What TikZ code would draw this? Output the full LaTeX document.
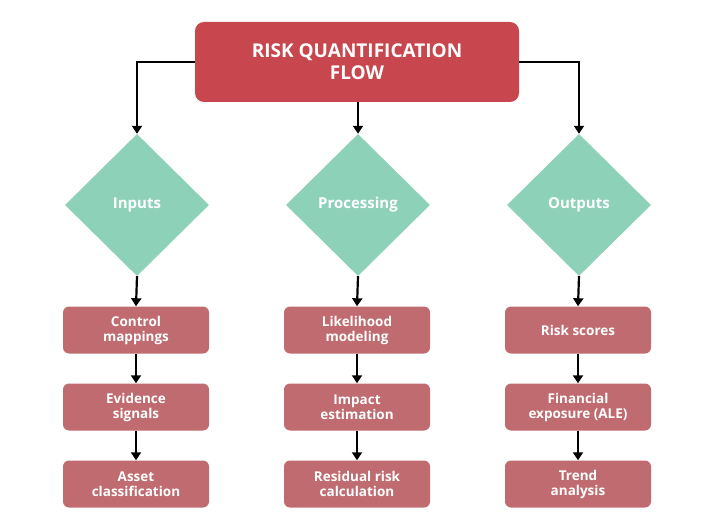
\documentclass[tikz,border=0pt]{standalone}
\usepackage{fontspec}
\setmainfont{Open Sans}
\usetikzlibrary{shapes.geometric,arrows.meta}
\definecolor{topred}{HTML}{C8464D}
\definecolor{boxred}{HTML}{C06B70}
\definecolor{teal}{HTML}{8ED1B9}
\begin{document}
\begin{tikzpicture}[x=1pt,y=-1pt,
  top/.style={fill=topred,rounded corners=9pt,minimum width=324pt,minimum height=80pt,text=white,font=\bfseries\fontsize{19}{22}\selectfont,align=center},
  dia/.style={diamond,fill=teal,minimum width=144pt,minimum height=142pt,inner sep=0pt,text=white,font=\bfseries\fontsize{15}{18}\selectfont},
  box/.style={fill=boxred,rounded corners=6pt,minimum width=146pt,minimum height=47pt,text=white,font=\bfseries\fontsize{13.5}{15}\selectfont,align=center,inner sep=1pt},
  arr/.style={draw=black,line width=2.2pt,-{Triangle[length=8pt,width=10pt]}}]
\useasboundingbox (0,0) rectangle (715,532);
\node[top] (T) at (357,62) {RISK QUANTIFICATION\\FLOW};
\node[dia] (D1) at (137,205) {Inputs};
\node[dia] (D2) at (358,205) {Processing};
\node[dia] (D3) at (579,205) {Outputs};
\node[box] (a1) at (136,330) {Control\\mappings};
\node[box] (a2) at (136,407) {Evidence\\signals};
\node[box] (a3) at (136,484) {Asset\\classification};
\node[box] (b1) at (357,330) {Likelihood\\modeling};
\node[box] (b2) at (357,407) {Impact\\estimation};
\node[box] (b3) at (357,484) {Residual risk\\calculation};
\node[box] (c1) at (578,330) {Risk scores};
\node[box] (c2) at (578,407) {Financial\\exposure (ALE)};
\node[box] (c3) at (578,484) {Trend\\analysis};
\draw[arr] (T.west) -| (D1.north);
\draw[arr] (T.east) -| (D3.north);
\draw[arr] (T.south -| D2.north) -- (D2.north);
\foreach \d/\x in {D1/a,D2/b,D3/c}{
  \draw[arr] (\d.south) -- (\x1.north);
  \draw[arr] (\x1.south) -- (\x2.north);
  \draw[arr] (\x2.south) -- (\x3.north);
}
\end{tikzpicture}
\end{document}
